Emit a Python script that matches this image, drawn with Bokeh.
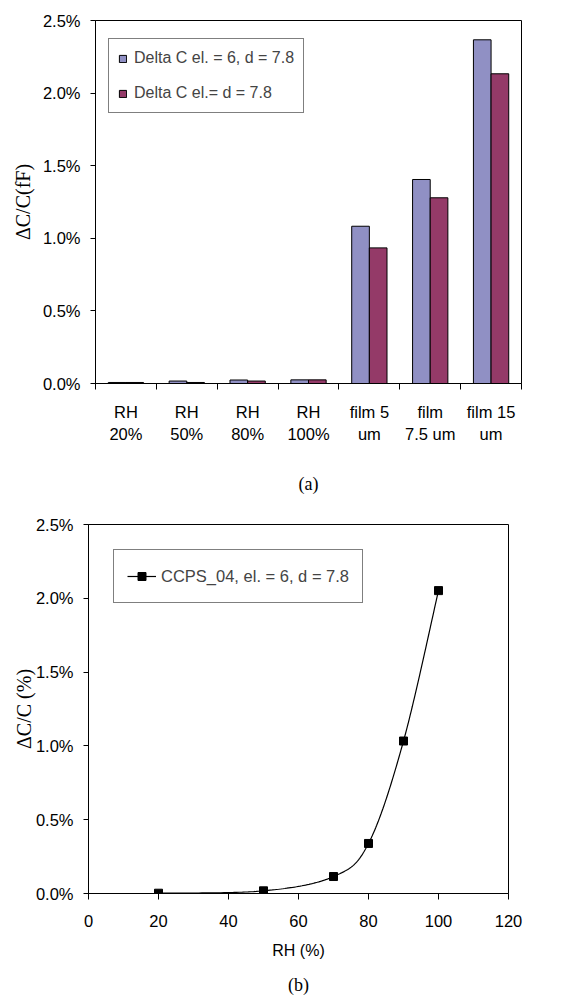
import numpy as np
from bokeh.plotting import figure
from bokeh.layouts import column, row
from bokeh.models import (Range1d, FixedTicker, NumeralTickFormatter, Legend,
                          LegendItem, LinearAxis, ColumnDataSource)
from bokeh.transform import dodge
from bokeh.embed import file_html
from bokeh.resources import INLINE

# ---------------- data ----------------
categories = ["RH\n20%", "RH\n50%", "RH\n80%", "RH\n100%", "film 5\num", "film\n7.5 um", "film 15\num"]
delta_el6 = [0.00007, 0.00017, 0.00024, 0.00025, 0.01083, 0.01405, 0.02367]
delta_el = [0.00007, 0.00007, 0.00017, 0.00025, 0.00934, 0.01279, 0.02133]
series_a = ["Delta C el. = 6, d = 7.8", "Delta C el.= d = 7.8"]

rh = [20, 50, 70, 80, 90, 100]
dcc = [0.00002, 0.00018, 0.00115, 0.00339, 0.01033, 0.02052]
series_b = "CCPS_04, el. = 6, d = 7.8"

y_ticks = [0, 0.005, 0.01, 0.015, 0.02, 0.025]
x_ticks_b = [0, 20, 40, 60, 80, 100, 120]

SANS = "Liberation Sans"
SERIF = "Liberation Serif"
FS = "16.5px"


def style(p):
    p.outline_line_color = "black"
    p.outline_line_width = 1
    p.xgrid.visible = False
    p.ygrid.visible = False
    p.background_fill_color = "white"
    p.border_fill_color = "white"
    for ax in (p.xaxis[0], p.yaxis[0]):
        ax.axis_line_color = "black"
        ax.major_tick_line_color = "black"
        ax.minor_tick_line_color = "black"
        ax.major_label_text_font = SANS
        ax.major_label_text_font_size = FS
        ax.major_label_text_color = "black"
        ax.axis_label_text_color = "black"
        ax.axis_label_text_font_style = "normal"


# ---------------- chart (a) ----------------
n = len(categories)
xc = list(np.arange(n) + 0.5)
src = ColumnDataSource(dict(x=xc, a=delta_el6, b=delta_el))

pa = figure(width=569, height=500, output_backend="svg", toolbar_location=None,
            x_range=Range1d(0, n), y_range=Range1d(0, 0.025),
            min_border_left=95, min_border_right=48, min_border_top=20,
            min_border_bottom=117)
style(pa)
bw = 0.29
ra = pa.vbar(x=dodge("x", -bw / 2, range=pa.x_range), top="a", width=bw, source=src,
             fill_color="#9090c4", line_color="black", line_width=1)
rb = pa.vbar(x=dodge("x", bw / 2, range=pa.x_range), top="b", width=bw, source=src,
             fill_color="#943a68", line_color="black", line_width=1)

xa = pa.xaxis[0]
xa.ticker = FixedTicker(ticks=xc, minor_ticks=list(range(n + 1)))
xa.major_label_overrides = {float(x): c for x, c in zip(xc, categories)}
xa.major_tick_out = 0
xa.major_tick_in = 0
xa.minor_tick_out = 6
xa.minor_tick_in = 0
xa.major_label_standoff = 13
xa.major_label_text_line_height = 1.26
xa.axis_label = "(a)"
xa.axis_label_text_font = SERIF
xa.axis_label_text_font_size = "18px"
xa.axis_label_standoff = 28

ya = pa.yaxis[0]
ya.ticker = FixedTicker(ticks=y_ticks, minor_ticks=[])
ya.formatter = NumeralTickFormatter(format="0.0%")
ya.major_tick_out = 5
ya.major_tick_in = 0
ya.major_label_standoff = 10
ya.axis_label = "ΔC/C(fF)"
ya.axis_label_text_font = SERIF
ya.axis_label_text_font_size = "20px"
ya.axis_label_standoff = 6

leg_a = Legend(items=[LegendItem(label=series_a[0], renderers=[ra]),
                      LegendItem(label=series_a[1], renderers=[rb])],
               location=(13, 270), padding=9, spacing=15, glyph_width=9, glyph_height=9,
               label_standoff=7, label_height=20, margin=0,
               label_text_font=SANS, label_text_font_size="16px",
               border_line_color="black", border_line_width=1,
               background_fill_color="white", background_fill_alpha=1)
pa.add_layout(leg_a, "center")

# ---------------- chart (b) ----------------
# Excel-style smoothed line (cubic Bezier, Catmull-Rom tangents) through the data points
px = np.array(rh, dtype=float)
py = np.array(dcc, dtype=float)
cx, cy = [], []
t = np.linspace(0, 1, 40)
for i in range(len(px) - 1):
    i0 = max(i - 1, 0)
    i3 = min(i + 2, len(px) - 1)
    p0 = np.array([px[i], py[i]])
    p3 = np.array([px[i + 1], py[i + 1]])
    c1 = p0 + (np.array([px[i + 1] - px[i0], py[i + 1] - py[i0]])) / 6
    c2 = p3 - (np.array([px[i3] - px[i], py[i3] - py[i]])) / 6
    bx = (1 - t) ** 3 * p0[0] + 3 * (1 - t) ** 2 * t * c1[0] + 3 * (1 - t) * t ** 2 * c2[0] + t ** 3 * p3[0]
    by = (1 - t) ** 3 * p0[1] + 3 * (1 - t) ** 2 * t * c1[1] + 3 * (1 - t) * t ** 2 * c2[1] + t ** 3 * p3[1]
    cx.extend(bx.tolist())
    cy.extend(by.tolist())

pb = figure(width=569, height=497, output_backend="svg", toolbar_location=None,
            x_range=Range1d(0, 120), y_range=Range1d(0, 0.025),
            min_border_left=88, min_border_right=61, min_border_top=24,
            min_border_bottom=104)
style(pb)
rl = pb.line(cx, cy, line_color="black", line_width=1.2)
rs = pb.scatter(rh, dcc, marker="square", size=8, fill_color="black", line_color="black")

xb = pb.xaxis[0]
xb.ticker = FixedTicker(ticks=x_ticks_b, minor_ticks=[])
xb.major_tick_out = 6
xb.major_tick_in = 0
xb.major_label_standoff = 15
xb.axis_label = "RH (%)"
xb.axis_label_text_font = SANS
xb.axis_label_text_font_size = "16px"
xb.axis_label_standoff = 12

# caption (b): an extra, tickless axis below the x axis
cap_b = LinearAxis(ticker=FixedTicker(ticks=[], minor_ticks=[]), axis_line_color=None,
                   major_tick_out=0, major_tick_in=0, minor_tick_out=0, minor_tick_in=0,
                   major_label_standoff=0, axis_label="(b)", axis_label_standoff=13,
                   axis_label_text_font=SERIF, axis_label_text_font_size="18px",
                   axis_label_text_font_style="normal", axis_label_text_color="black")
pb.add_layout(cap_b, "below")

yb = pb.yaxis[0]
yb.ticker = FixedTicker(ticks=y_ticks, minor_ticks=[])
yb.formatter = NumeralTickFormatter(format="0.0%")
yb.major_tick_out = 5
yb.major_tick_in = 0
yb.major_label_standoff = 10
yb.axis_label = "ΔC/C (%)"
yb.axis_label_text_font = SERIF
yb.axis_label_text_font_size = "20px"
yb.axis_label_standoff = -2

leg_b = Legend(items=[LegendItem(label=series_b, renderers=[rl, rs])],
               location=(25, 290), padding=13, glyph_width=29, glyph_height=20,
               label_standoff=5, label_height=26, margin=0,
               label_text_font=SANS, label_text_font_size=FS,
               border_line_color="black", border_line_width=1,
               background_fill_color="white", background_fill_alpha=1)
pb.add_layout(leg_b, "center")

# nest the second chart so its plot frame is not aligned with the first one
layout = column(pa, row(pb), spacing=0)
open("out.html", "w").write(file_html(layout, INLINE))
